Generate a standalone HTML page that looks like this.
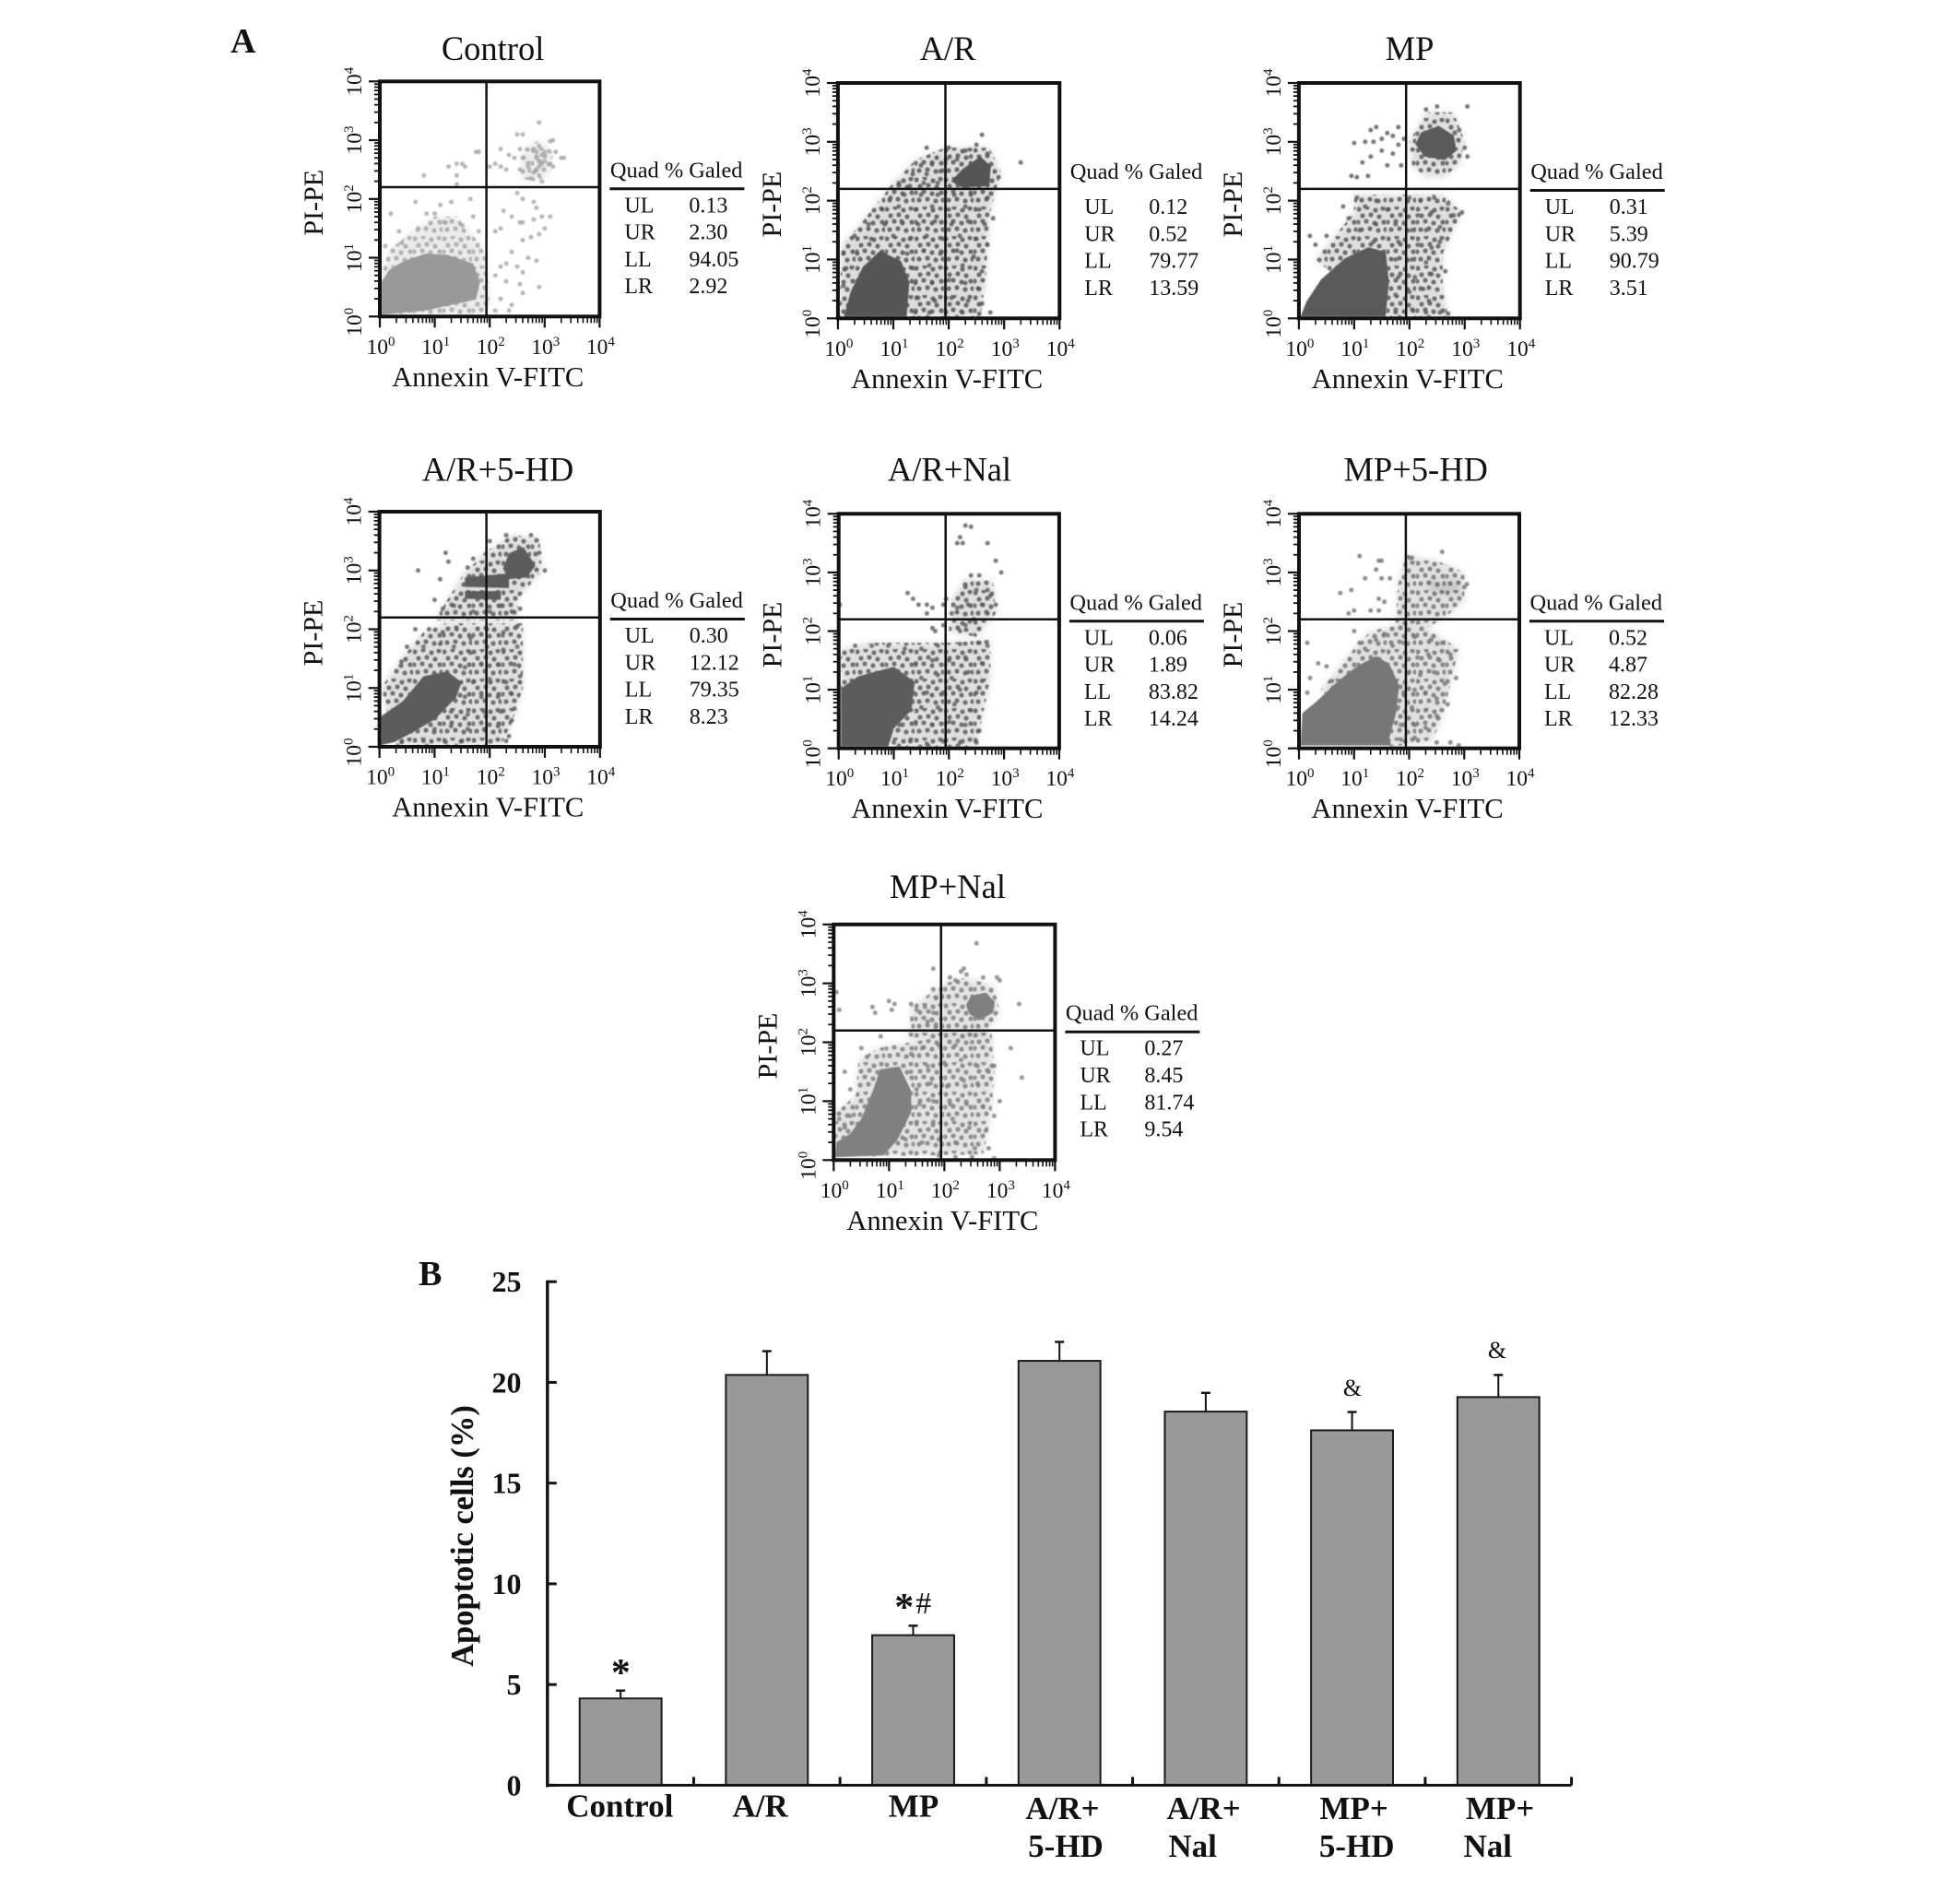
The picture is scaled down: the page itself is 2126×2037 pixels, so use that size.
<!DOCTYPE html>
<html lang="en">
<head>
<meta charset="utf-8">
<title>Flow cytometry apoptosis panels and bar chart</title>
<style>
html,body{margin:0;padding:0;background:#fff;width:2126px;height:2037px;overflow:hidden}
svg{display:block}
text{font-family:"Liberation Serif",serif;fill:#111}
</style>
</head>
<body>
<svg id="figure" xmlns="http://www.w3.org/2000/svg" width="2126" height="2037" viewBox="0 0 2126 2037">
<defs id="defs"><filter id="soft" x="-5%" y="-5%" width="110%" height="110%"><feGaussianBlur stdDeviation="0.6"/></filter><filter id="softer" x="-10%" y="-10%" width="120%" height="120%"><feGaussianBlur stdDeviation="3.5"/></filter></defs>
<rect width="2126" height="2037" fill="#fff"/>
<text x="250" y="57" font-size="38" font-weight="700">A</text>
<text x="454" y="1394" font-size="38" font-weight="700">B</text>
</svg>
<script>
// ---------- flow cytometry data (all coordinates are log10 decades, 0..4) ----------
const decadeTicks=[0,1,2,3,4];
const gateXDecade=1.94;
const gateYDecade=2.2;
const quadLabels=['UL','UR','LL','LR'];

const controlStats=['0.13','2.30','94.05','2.92'];
const arStats=['0.12','0.52','79.77','13.59'];
const mpStats=['0.31','5.39','90.79','3.51'];
const ar5hdStats=['0.30','12.12','79.35','8.23'];
const arNalStats=['0.06','1.89','83.82','14.24'];
const mp5hdStats=['0.52','4.87','82.28','12.33'];
const mpNalStats=['0.27','8.45','81.74','9.54'];

const controlCores=[[[0.03,0.03],[0.03,0.58],[0.17,0.79],[0.43,0.94],[0.83,1.07],[1.23,1.05],[1.7,0.9],[1.82,0.58],[1.75,0.29],[1.36,0.21],[0.83,0.1]]];
const controlHalos=[[[0.03,0.03],[0.03,0.8],[0.2,1.15],[0.6,1.45],[1,1.7],[1.4,1.7],[1.85,1.2],[1.95,0.9],[2,0.2],[1.9,0.03]],[[2.55,2.35],[2.6,2.85],[2.9,3],[3.15,2.8],[3.1,2.45],[2.85,2.3]]];
const controlDots=[[2.9,3.3],[2.5,3.1],[2.6,3.1],[2.55,2.85],[2.9,2.9],[3.1,2.98],[3.15,3],[2.8,2.85],[3,2.8],[3.2,2.8],[3.3,2.7],[3.35,2.7],[2.2,2.85],[2.35,2.75],[2.1,2.6],[2,2.55],[2.2,2.55],[2.3,2.5],[2.55,2.5],[2.7,2.55],[2.85,2.5],[2.9,2.55],[2.95,2.6],[2.9,2.65],[2.85,2.7],[2.95,2.75],[2.85,2.8],[3,2.65],[3.1,2.6],[3.15,2.55],[2.9,2.4],[2.75,2.35],[2.95,2.3],[2.8,2.45],[2.6,2.7],[2.45,2.7],[1.25,2.55],[1.4,2.6],[1.5,2.6],[1.55,2.55],[1.4,2.4],[1.75,2.8],[1.8,2.8],[0.8,2.4],[1.4,2.25],[2.5,2.1],[2.6,2],[2.8,1.95],[2.85,1.85],[2.25,1.8],[2.4,1.7],[2.55,1.6],[2.6,1.6],[2.8,1.65],[2.95,1.7],[3.1,1.7],[3,1.5],[2.2,1.5],[2.1,1.45],[2.6,1.3],[2.75,1.35],[2.9,1.4],[2.4,1.1],[2.7,1],[2.85,0.95],[2.5,0.85],[2.2,0.85],[2.1,0.7],[2.3,0.6],[2.55,0.55],[2.9,0.5],[2.6,0.4],[2.2,0.3],[2.4,0.2],[2.1,0.1],[2.35,0.1],[2.3,0.9],[2.6,0.75],[0.65,1.95],[0.85,1.75],[1,1.75],[1.1,1.9],[1.3,1.95],[1.65,2],[1.7,1.7],[0.2,1.75],[0.35,1.45],[0.7,1.5],[1.2,1.6],[1.5,1.55],[1.8,1.45],[0.1,1.2],[0.4,1.25]];

const arCores=[[[0.11,0.03],[0.23,0.45],[0.45,0.87],[0.76,1.15],[1.14,0.97],[1.29,0.61],[1.24,0.03]],[[2.04,2.33],[2.25,2.54],[2.57,2.75],[2.76,2.59],[2.73,2.25],[2.25,2.22]]];
const arHalos=[[[0.02,0.03],[0.07,1.23],[0.45,1.65],[0.98,2.28],[1.4,2.69],[1.93,2.9],[2.73,2.9],[2.94,2.49],[2.73,1.75],[2.67,0.71],[2.57,0.03]]];
const arDots=[[2.6,3.12],[1.6,2.9],[2,2.9],[2.3,2.85],[2.5,2.95],[2.7,2.8],[1.5,2.6],[1.7,2.65],[1.95,2.7],[2.15,2.7],[2.4,2.75],[1.35,2.45],[1.6,2.45],[1.85,2.5],[2.9,2.4],[3.3,2.65],[1.1,2.3],[1.3,2.25],[1.55,2.3],[1.8,2.3],[0.95,2.05],[1.2,2.1],[1.5,2.1],[1.8,2.1],[2.1,2.1],[2.4,2.1],[2.7,2.05],[0.8,1.85],[1.1,1.9],[1.4,1.85],[1.7,1.9],[2,1.85],[2.3,1.9],[2.55,1.85],[2.8,1.7],[0.55,1.6],[0.85,1.6],[1.15,1.65],[1.45,1.6],[1.75,1.65],[2.05,1.6],[2.35,1.65],[2.65,1.6],[0.3,1.4],[0.6,1.35],[1,1.4],[1.3,1.35],[1.6,1.4],[1.9,1.35],[2.2,1.4],[2.5,1.35],[2.7,1.25],[0.1,1.1],[0.35,1.1],[1.25,1.1],[1.55,1.15],[1.85,1.1],[2.15,1.15],[2.45,1.05],[0.15,0.85],[1.35,0.85],[1.65,0.9],[1.95,0.85],[2.25,0.9],[2.6,0.8],[0.1,0.55],[1.4,0.6],[1.7,0.6],[2,0.65],[2.3,0.6],[2.55,0.5],[1.45,0.35],[1.75,0.3],[2.05,0.35],[2.35,0.3],[2.6,0.25],[1.4,0.1],[1.65,0.1],[1.95,0.1],[2.25,0.1],[2.55,0.08],[2.75,0.1]];

const mpCores=[[[0.03,0.03],[0.14,0.29],[0.4,0.66],[0.83,1.02],[1.26,1.21],[1.57,1.13],[1.63,0.61],[1.57,0.03]],[[2.11,2.96],[2.21,3.16],[2.53,3.27],[2.8,3.11],[2.85,2.85],[2.64,2.69],[2.27,2.75]]];
const mpHalos=[[[0.3,1],[1,1.8],[1,2.1],[2.6,2.1],[2.95,1.8],[2.6,1.1],[2.6,0.5],[2.7,0.03],[1.6,0.03]],[[2.05,2.6],[2,3],[2.3,3.5],[2.8,3.5],[3,3],[2.9,2.6],[2.6,2.4],[2.3,2.4]]];
const mpDots=[[1,2.98],[1.3,3.2],[1.4,3.25],[1.2,3],[1.35,3],[1.5,3.05],[1.6,3.15],[1.7,3.1],[1.8,2.95],[1.5,2.85],[1.7,2.8],[1.3,2.75],[1.15,2.65],[1.6,2.6],[1.85,2.6],[1.05,2.4],[0.95,2.42],[1.25,2.42],[1.8,3.25],[1.9,3.05],[3.05,3.6],[2.5,3.6],[2.3,3.55],[2.9,3.2],[3,2.9],[3.05,2.75],[0.5,1.4],[0.2,1.4],[0.3,1.25],[0.8,1.9],[0.9,1.7],[1.05,2.05],[1.2,1.9],[1.4,2],[1.6,1.85],[1.1,1.5],[1.4,1.6],[1.75,1.6],[1.35,1.3],[1.8,1.3],[2,2.05],[2.2,2],[2.45,2.05],[2.15,1.75],[2.4,1.8],[2.7,1.95],[2.8,1.75],[2.95,1.8],[2.05,1.5],[2.3,1.5],[2.55,1.55],[2.15,1.25],[2.4,1.2],[2.55,1.3],[1.75,1],[2.05,1],[2.3,0.95],[2.4,0.75],[1.8,0.7],[2.1,0.7],[2.65,0.8],[1.75,0.4],[2,0.45],[2.25,0.5],[2.35,0.3],[1.75,0.1],[2.05,0.15],[2.3,0.1],[2.55,0.1],[2.7,0.08]];

const ar5hdCores=[[[0.03,0.03],[0.03,0.52],[0.43,0.78],[0.8,1.2],[1.23,1.28],[1.49,1.1],[1.39,0.84],[1.01,0.47],[0.59,0.24],[0.27,0.08]],[[2.24,3.03],[2.35,3.29],[2.61,3.4],[2.83,3.08],[2.67,2.88],[2.35,2.85]],[[1.55,2.88],[2.35,2.95],[2.35,2.7],[1.55,2.72]],[[1.55,2.65],[2.2,2.65],[2.2,2.5],[1.55,2.52]]];
const ar5hdHalos=[[[1,2.15],[1.5,2.9],[1.9,3.3],[2.4,3.6],[2.9,3.55],[2.95,3],[2.5,2.5],[2.5,2.15]],[[0.03,1],[0.4,1.5],[0.8,1.95],[1.2,2.1],[2.6,2.1],[2.6,1],[2.4,0.4],[2.2,0.03],[0.3,0.03]]];
const ar5hdDots=[[0.7,3],[1.2,3.3],[1.25,3.15],[3,3],[1.1,2.85],[1,2.5],[1.15,2.35],[1.35,2.4],[1.6,3.05],[1.7,3.2],[2,3.5],[2.3,3.6],[2.75,3.6],[2.9,3.3],[2.2,2.4],[2.4,2.3],[2.55,2.35],[1.7,2.3],[2,2.3],[0.65,2],[0.9,2],[1.15,1.95],[1.4,2],[1.65,1.85],[1.95,2],[2.25,1.95],[2.5,2.05],[0.5,1.7],[0.8,1.7],[1.1,1.75],[1.35,1.7],[1.65,1.6],[1.95,1.7],[2.25,1.65],[2.5,1.7],[0.4,1.45],[1.55,1.35],[1.85,1.4],[2.15,1.4],[2.45,1.4],[1.7,1.1],[2,1.15],[2.3,1.1],[2.55,1.2],[1.55,0.85],[1.85,0.85],[2.15,0.85],[2.4,0.9],[1.3,0.6],[1.6,0.55],[1.9,0.6],[2.2,0.6],[2.45,0.65],[1,0.3],[1.3,0.35],[1.6,0.3],[1.9,0.3],[2.15,0.35],[2.4,0.45],[0.4,0.08],[0.8,0.1],[1.2,0.08],[1.5,0.1],[2.3,0.1],[2.35,0.18]];

const arNalCores=[[[0.04,0.03],[0.04,1.02],[0.36,1.23],[1,1.39],[1.38,1.13],[1.32,0.65],[1,0.34],[0.9,0.03]]];
const arNalHalos=[[[0.04,1],[0.04,1.7],[0.6,1.8],[1.2,1.8],[2,1.8],[2.75,1.85],[2.75,1.2],[2.6,0.5],[2.5,0.03],[1,0.03]],[[2,2],[2.05,2.55],[2.3,2.9],[2.8,2.85],[2.85,2.3],[2.5,1.9]]];
const arNalDots=[[2.3,3.8],[2.4,3.78],[2.2,3.6],[2.25,3.5],[2.15,3.5],[2.7,3.5],[2.85,3.2],[2.95,3],[2.4,2.95],[2.55,2.95],[2.3,2.75],[2.5,2.7],[2.7,2.7],[2.75,2.6],[2.6,2.45],[2.35,2.45],[2.15,2.4],[2.05,2.3],[2.7,2.3],[2.85,2.45],[2.45,2.2],[2.3,2.1],[2.2,2],[1.25,2.65],[1.35,2.55],[1.45,2.45],[1.6,2.45],[1.7,2.4],[1.9,2.45],[1.95,2.55],[1.6,2.3],[0.02,2.45],[1.7,2.05],[1.75,2],[1.9,2.1],[0.3,1.75],[0.6,1.75],[0.9,1.75],[1.2,1.7],[1.5,1.7],[1.8,1.75],[2.2,1.78],[2.55,1.8],[2.7,1.75],[1.4,1.45],[1.7,1.5],[2,1.5],[2.3,1.55],[2.6,1.45],[1.5,1.2],[1.8,1.25],[2.05,1.2],[2.35,1.3],[2.6,1.15],[1.35,0.95],[1.6,0.95],[1.9,0.95],[2.2,1],[2.5,0.95],[1.2,0.7],[1.5,0.7],[1.8,0.7],[2.1,0.75],[2.4,0.65],[1.1,0.4],[1.4,0.45],[1.7,0.4],[2,0.45],[2.3,0.4],[2.55,0.3],[1,0.1],[1.3,0.12],[1.6,0.08],[1.9,0.12],[2.2,0.1],[2.5,0.1]];

const mp5hdCores=[[[0.03,0.05],[0.06,0.6],[0.33,0.81],[0.69,1.13],[1.04,1.39],[1.4,1.57],[1.64,1.44],[1.82,1.07],[1.76,0.6],[1.64,0.18],[1.67,0.05]]];
const mp5hdHalos=[[[0.4,1],[1,1.7],[1.3,2],[1.8,2.1],[2.3,2.05],[2.9,1.7],[2.8,1.3],[2.6,0.5],[2.4,0.1],[1.6,0.03]],[[1.75,2.1],[1.8,2.8],[1.95,3.3],[2.5,3.2],[3,3],[3,2.5],[2.6,2.2],[2.3,2.05]],[[2.3,2.85],[2.9,2.85],[2.95,2.65],[2.4,2.65]]];
const mp5hdDots=[[1.1,3.28],[1.5,3.2],[1.45,3.2],[1.4,3.05],[1.2,2.9],[1.5,2.9],[1.65,2.9],[0.75,2.65],[0.95,2.7],[1.45,2.55],[1.55,2.5],[0.9,2.3],[1,2.35],[1.3,2.35],[1.45,2.35],[2,3.25],[2.6,3.35],[2.05,3.25],[3,2.75],[3.05,2.8],[0.15,1.8],[0.35,1.45],[0.5,1.4],[0.2,1.2],[0.6,1.15],[0.15,0.95],[1,2],[1.1,1.8],[1.2,1.7],[1.4,1.85],[1.55,1.95],[1.7,1.75],[1.9,1.8],[2.1,1.9],[2.4,1.85],[2.6,1.8],[2.75,1.6],[2.15,1.55],[2.35,1.6],[2.55,1.5],[2.85,1.2],[2,1.3],[2.2,1.25],[2.45,1.3],[2.65,1.1],[1.9,0.95],[2.1,1],[2.3,0.95],[2.5,0.85],[2.7,0.75],[1.8,0.7],[2.05,0.7],[2.3,0.65],[2.5,0.55],[1.85,0.4],[2.1,0.4],[2.3,0.35],[1.85,0.15],[2.1,0.18],[2.5,0.1],[2.75,0.1],[2.9,0.05],[0.25,0.3],[0.5,0.25],[0.25,0.55]];

const mpNalCores=[[[0.03,0.05],[0.05,0.3],[0.3,0.45],[0.5,0.7],[0.73,1.23],[0.84,1.54],[1.19,1.59],[1.4,1.17],[1.4,0.81],[1.15,0.34],[0.9,0.08]],[[2.39,2.63],[2.48,2.79],[2.74,2.84],[2.91,2.69],[2.88,2.5],[2.62,2.37],[2.45,2.48]]];
const mpNalHalos=[[[0.03,0.05],[0.03,0.8],[0.4,1.1],[0.45,1.7],[0.8,1.9],[1.4,2],[2,2.1],[2.85,2.2],[2.9,1.5],[2.85,0.8],[2.7,0.1]],[[1.35,2.05],[1.4,2.6],[2,3],[2.4,3.1],[2.9,2.95],[3,2.5],[2.7,2.1]]];
const mpNalDots=[[2.58,3.68],[1.8,3.25],[2.35,3.25],[2.3,3.2],[2.4,3.15],[2.7,3.1],[2.95,3.1],[3,3.05],[2.1,3.1],[2.2,3.05],[1.8,2.9],[1.85,2.75],[3.35,2.65],[0.05,2.85],[0.1,2.55],[0.7,2.6],[0.75,2.5],[1,2.7],[1.05,2.55],[1.1,2.65],[1.4,2.65],[1.5,2.55],[1.65,2.6],[1.8,2.5],[1.7,2.35],[1.85,2.3],[3.2,1.9],[3.4,1.4],[3,1],[2.9,0.75],[2.9,1.6],[2.8,1.5],[0.85,2.1],[0.5,1.9],[0.6,1.75],[0.2,1.5],[0.3,1.2],[0.1,0.7],[0.2,0.55],[0.3,0.75],[1.4,1.8],[1.6,1.9],[1.9,1.95],[2.2,1.95],[2.5,2],[1.4,1.5],[1.7,1.6],[2,1.65],[2.3,1.7],[2.6,1.6],[1.5,1.2],[1.75,1.3],[2.05,1.25],[2.35,1.35],[2.6,1.3],[1.3,0.9],[1.55,0.95],[1.8,1],[2.1,0.95],[2.4,0.95],[2.7,0.9],[1.2,0.6],[1.5,0.65],[1.8,0.65],[2.15,0.7],[2.45,0.55],[2.75,0.5],[1,0.3],[1.3,0.35],[1.6,0.3],[1.9,0.35],[2.2,0.3],[2.55,0.2],[2.8,0.2],[1.9,0.08],[2.2,0.05],[2.5,0.05],[2.9,0.03]];

// ---------- bar chart data ----------
const barCategories=['Control','A/R','MP','A/R+ 5-HD','A/R+ Nal','MP+ 5-HD','MP+ Nal'];
const barMeans=[4.31,20.37,7.45,21.07,18.55,17.62,19.27];
const barErrorTops=[4.70,21.55,7.92,22.01,19.48,18.53,20.37];
const barTickValues=[0,5,10,15,20,25];

// ---------- layout ----------
const SVGNS='http://www.w3.org/2000/svg';
const fig=document.getElementById('figure');
const defs=document.getElementById('defs');
function mk(tag,attrs,parent,txt){
  const n=document.createElementNS(SVGNS,tag);
  for(const k in attrs)n.setAttribute(k,attrs[k]);
  if(txt!==undefined)n.textContent=txt;
  (parent||fig).appendChild(n);
  return n;
}
// stipple tile used for the sparse event clouds (texture only, not data)
const stippleTile=[[2,3],[11,1],[20,4],[28,2],[6,10],[15,9],[24,11],[1,17],[10,16],[19,18],[29,17],[5,25],[14,24],[23,26],[31,25]];

const panels=[
 {slug:'control',title:'Control',left:412,right:650.4,top:88.3,bottom:343.3,tx:534.6,ty:65,rule:true,stats:controlStats,cores:controlCores,halos:controlHalos,dots:controlDots,core:'#999',halo:'#999',haloOp:.2,dot:'#a8a8a8',dotOp:.8},
 {slug:'ar',title:'A/R',left:908.9,right:1149.3,top:90,bottom:345.3,tx:1028,ty:65,rule:false,stats:arStats,cores:arCores,halos:arHalos,dots:arDots,core:'#555',halo:'#666',haloOp:.22,dot:'#555',dotOp:.8},
 {slug:'mp',title:'MP',left:1408.9,right:1648.7,top:90,bottom:345.3,tx:1529,ty:65,rule:true,stats:mpStats,cores:mpCores,halos:mpHalos,dots:mpDots,core:'#5a5a5a',halo:'#666',haloOp:.2,dot:'#5a5a5a',dotOp:.8},
 {slug:'ar-5hd',title:'A/R+5-HD',left:411.6,right:650.8,top:555,bottom:810,tx:540,ty:521.7,rule:true,stats:ar5hdStats,cores:ar5hdCores,halos:ar5hdHalos,dots:ar5hdDots,core:'#5c5c5c',halo:'#666',haloOp:.2,dot:'#5c5c5c',dotOp:.8},
 {slug:'ar-nal',title:'A/R+Nal',left:909.7,right:1148.9,top:557.3,bottom:811.7,tx:1030,ty:521.7,rule:true,stats:arNalStats,cores:arNalCores,halos:arNalHalos,dots:arNalDots,core:'#5c5c5c',halo:'#666',haloOp:.2,dot:'#5c5c5c',dotOp:.8},
 {slug:'mp-5hd',title:'MP+5-HD',left:1409,right:1648,top:557.3,bottom:811.7,tx:1535.7,ty:521.7,rule:true,stats:mp5hdStats,cores:mp5hdCores,halos:mp5hdHalos,dots:mp5hdDots,core:'#777',halo:'#777',haloOp:.22,dot:'#777',dotOp:.8},
 {slug:'mp-nal',title:'MP+Nal',left:904.3,right:1144.4,top:1002.7,bottom:1258.3,tx:1028,ty:974,rule:true,stats:mpNalStats,cores:mpNalCores,halos:mpNalHalos,dots:mpNalDots,core:'#808080',halo:'#808080',haloOp:.22,dot:'#808080',dotOp:.8}
];

function drawPanel(p){
  const g=mk('g',{});
  
  
  const sx=d=>p.left+d/4*(p.right-p.left);
  const sy=d=>p.bottom-d/4*(p.bottom-p.top);
  const poly=pts=>pts.map(q=>sx(q[0]).toFixed(1)+','+sy(q[1]).toFixed(1)).join(' ');

  const pat=mk('pattern',{id:'tile-'+p.slug,patternUnits:'userSpaceOnUse',width:32,height:32},defs);
  stippleTile.forEach(t=>{
    mk('circle',{cx:t[0],cy:t[1],r:2.6,fill:p.dot},pat);
  });
  const clip=mk('clipPath',{id:'clip-'+p.slug},defs);
  mk('rect',{x:p.left,y:p.top,width:p.right-p.left,height:p.bottom-p.top},clip);

  const title=mk('text',{x:p.tx,y:p.ty,'font-size':36.5,'text-anchor':'middle'},g,p.title);
  
  

  const clipG=mk('g',{'clip-path':'url(#clip-'+p.slug+')'},g);
  
  
  const shades=mk('g',{filter:'url(#softer)'},clipG);
  
  
  const marks=mk('g',{filter:'url(#soft)'},clipG);
  
  
  p.halos.forEach(h=>{
    const s=mk('polygon',{points:poly(h),fill:p.halo,'fill-opacity':p.haloOp},shades);
    
    
    const e=mk('polygon',{points:poly(h),fill:'url(#tile-'+p.slug+')','fill-opacity':.85},marks);
    
    
  });
  p.dots.forEach(d=>{
    const e=mk('circle',{cx:sx(d[0]).toFixed(1),cy:sy(d[1]).toFixed(1),r:2.5,fill:p.dot,'fill-opacity':p.dotOp},marks);
    
    
  });
  p.cores.forEach(c=>{
    const e=mk('polygon',{points:poly(c),fill:p.core},marks);
    
    
  });

  const frame=mk('rect',{x:p.left,y:p.top,width:p.right-p.left,height:p.bottom-p.top,fill:'none',stroke:'#111','stroke-width':4},g);
  
  

  const gv=mk('line',{x1:sx(gateXDecade),x2:sx(gateXDecade),y1:p.top,y2:p.bottom,stroke:'#111','stroke-width':2.5},g);
  
  
  const gh=mk('line',{x1:p.left,x2:p.right,y1:sy(gateYDecade),y2:sy(gateYDecade),stroke:'#111','stroke-width':2.5},g);
  
  

  decadeTicks.forEach(t=>{
    const tx=mk('line',{x1:sx(t),x2:sx(t),y1:p.bottom,y2:p.bottom+12,stroke:'#111','stroke-width':2.2},g);
    
    
    const ty=mk('line',{x1:p.left-12,x2:p.left,y1:sy(t),y2:sy(t),stroke:'#111','stroke-width':2.2},g);
    
    
    const lx=mk('text',{x:sx(t)+1,y:p.bottom+40.5,'font-size':23.5,'text-anchor':'middle'},g);
    
    
    mk('tspan',{},lx,'10');
    mk('tspan',{dy:-9,'font-size':15},lx,String(t));
    const ly=mk('text',{transform:'translate('+(p.left-20)+','+(sy(t)+(t===0?6:0))+') rotate(-90)','font-size':23.5,'text-anchor':'middle'},g);
    
    
    mk('tspan',{},ly,'10');
    mk('tspan',{dy:-9,'font-size':15},ly,String(t));
    if(t<4){
      for(let m=2;m<=9;m++){
        const d=t+Math.log10(m);
        const a=mk('line',{x1:sx(d),x2:sx(d),y1:p.bottom,y2:p.bottom+7,stroke:'#111','stroke-width':1.6},g);
        
        
        const b=mk('line',{x1:p.left-6,x2:p.left,y1:sy(d),y2:sy(d),stroke:'#111','stroke-width':1.8},g);
        
        
      }
    }
  });

  const xt=mk('text',{x:(p.left+p.right)/2-2,y:p.bottom+75.5,'font-size':30.6,'text-anchor':'middle'},g,'Annexin V-FITC');
  
  
  const yt=mk('text',{transform:'translate('+(p.left-62)+','+((p.top+p.bottom)/2+4)+') rotate(-90)','font-size':30,'text-anchor':'middle'},g,'PI-PE');
  
  

  const hdr=mk('text',{x:p.right+11.5,y:p.top+104,'font-size':24.4},g,'Quad % Galed');
  
  
  if(p.rule){
    const r=mk('line',{x1:p.right+11,x2:p.right+157,y1:p.top+116.5,y2:p.top+116.5,stroke:'#111','stroke-width':3},g);
    
    
  }
  quadLabels.forEach((q,i)=>{
    const y=p.top+142+29.3*i;
    const a=mk('text',{x:p.right+27,y:y,'font-size':24},g,q);
    
    
    const b=mk('text',{x:p.right+97,y:y,'font-size':24},g,p.stats[i]);
    
    
  });
}
panels.forEach(drawPanel);

// ---------- bar chart ----------
const barAxisLeft=593.8, barAxisRight=1704.6, barY0=1936.4, barY25=1390.2, barWidthRatio=0.56;
const barBand=(barAxisRight-barAxisLeft)/barCategories.length;
const barX=i=>barAxisLeft+barBand*(i+0.5);
const barY=v=>barY0-v/25*(barY0-barY25);
const barSlugs=['control','ar','mp','ar-5hd','ar-nal','mp-5hd','mp-nal'];

const barG=mk('g',{});



barMeans.forEach((v,i)=>{
  const w=barBand*barWidthRatio;
  const eb=mk('line',{x1:barX(i),x2:barX(i),y1:barY(v),y2:barY(barErrorTops[i]),stroke:'#111','stroke-width':2},barG);
  
  
  const cap=mk('line',{x1:barX(i)-5,x2:barX(i)+5,y1:barY(barErrorTops[i]),y2:barY(barErrorTops[i]),stroke:'#111','stroke-width':2.4},barG);
  
  
  const r=mk('rect',{x:barX(i)-w/2,y:barY(v),width:w,height:barY0-barY(v),fill:'#999',stroke:'#1a1a1a','stroke-width':2},barG);
  
  
});

const yAxis=mk('line',{x1:barAxisLeft,x2:barAxisLeft,y1:barY25-1.5,y2:barY0+2,stroke:'#111','stroke-width':3.4},barG);


const xAxis=mk('line',{x1:barAxisLeft,x2:barAxisRight,y1:barY0,y2:barY0,stroke:'#111','stroke-width':3},barG);



barTickValues.forEach(t=>{
  const k=mk('line',{x1:barAxisLeft,x2:barAxisLeft+10,y1:barY(t),y2:barY(t),stroke:'#111','stroke-width':3},barG);
  
  
  const l=mk('text',{x:565.5,y:barY(t)+11,'font-size':32,'font-weight':700,'text-anchor':'end'},barG,String(t));
  
  
});
for(let i=1;i<=barCategories.length;i++){
  const k=mk('line',{x1:barAxisLeft+barBand*i,x2:barAxisLeft+barBand*i,y1:barY0,y2:barY0-9,stroke:'#111','stroke-width':3},barG);
  
  
}

const yTitle=mk('text',{transform:'translate(513,1666) rotate(-90)','font-size':34.5,'font-weight':700,'text-anchor':'middle'},barG,'Apoptotic cells (%)');



// hand-placed category text (offsets follow the reference's uneven label placement)
const catLineOne=[['Control',672.3,1970.5],['A/R',824.6,1970.5],['MP',991,1970.5],['A/R+',1152.5,1973],['A/R+',1305.6,1973],['MP+',1468.6,1973],['MP+',1627,1973]];
const catLineTwo=[['5-HD',1156,2014],['Nal',1293.6,2014],['5-HD',1471.7,2014],['Nal',1613.7,2014]];
catLineOne.concat(catLineTwo).forEach(c=>{
  const t=mk('text',{x:c[1],y:c[2],'font-size':35,'font-weight':700,'text-anchor':'middle'},barG,c[0]);
  
  
});

const sigStar1=mk('text',{x:673.4,y:1828,'font-size':42,'font-weight':700,'text-anchor':'middle'},barG,'*');


const sigStar2=mk('text',{x:980.8,y:1757,'font-size':42,'font-weight':700,'text-anchor':'middle'},barG,'*');


const sigHash=mk('text',{x:1001.8,y:1750,'font-size':34,'text-anchor':'middle'},barG,'#');


const sigAmp1=mk('text',{x:1467,y:1514,'font-size':26,'text-anchor':'middle'},barG,'&');


const sigAmp2=mk('text',{x:1624,y:1473,'font-size':26,'text-anchor':'middle'},barG,'&');


</script>
</body>
</html>
